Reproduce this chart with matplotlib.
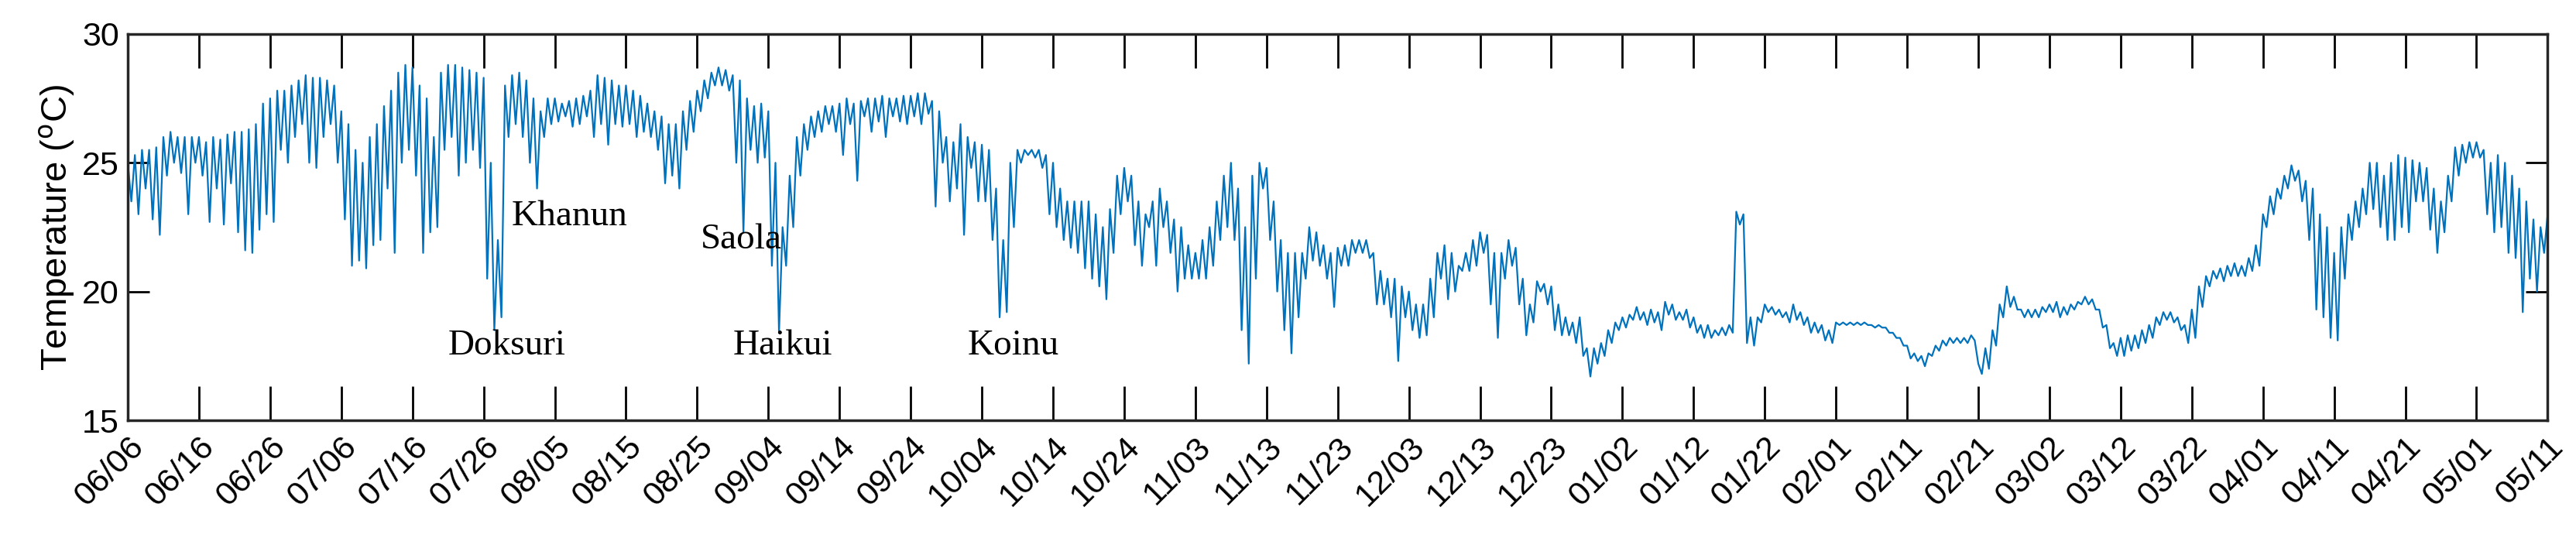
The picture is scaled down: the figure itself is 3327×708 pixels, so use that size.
import matplotlib

matplotlib.use("Agg")
import matplotlib.pyplot as plt  # noqa: E402
import numpy as np  # noqa: E402

# daily upper level and daily dip (deg C), one pair per day starting 06/06
DAY_HIGH = [
    25, 25.3, 25.5, 25.5, 25.6, 26, 26.2, 26, 26, 26,
    26, 25.8, 26, 25.9, 26.1, 26.2, 26.2, 26.3, 26.5, 27.3,
    27.5, 27.8, 27.8, 28, 28.2, 28.4, 28.3, 28.3, 28.2, 28,
    27, 26.5, 25.5, 25, 26, 26.5, 27.2, 27.8, 28.5, 28.8,
    28.7, 28, 27.5, 26, 28.5, 28.8, 28.8, 28.7, 28.6, 28.5,
    28.3, 25, 22, 28, 28.4, 28.5, 28.2, 27.5, 27, 27.5,
    27.5, 27.3, 27.4, 27.5, 27.6, 27.8, 28.4, 28.3, 28.2, 28,
    28, 27.8, 27.6, 27.3, 27, 26.8, 26.5, 26.5, 27, 27.4,
    27.8, 28.2, 28.5, 28.7, 28.6, 28.4, 28.2, 27.5, 27.2, 27.3,
    27, 25, 22.5, 24.5, 26, 26.5, 26.8, 27, 27.2, 27.2,
    27.3, 27.5, 27.3, 27.4, 27.5, 27.5, 27.6, 27.5, 27.5, 27.6,
    27.6, 27.7, 27.7, 27.4, 27, 26, 25.8, 26.5, 26, 25.8,
    25.7, 25.5, 24, 22, 25, 25.5, 25.5, 25.5, 25.5, 25.3,
    25, 24, 23.5, 23.5, 23.5, 23.5, 23, 22.5, 23.2, 24.5,
    24.8, 24.5, 23.5, 23, 23.5, 24, 23.5, 22.8, 22.5, 21.8,
    21.5, 22, 22.5, 23.5, 24.5, 25, 24, 22.5, 24.5, 25,
    24.8, 23.5, 22, 21.5, 21.5, 21.5, 22.5, 22.3, 21.8, 21.5,
    21.7, 21.8, 22, 22, 22, 21.5, 20.8, 20.5, 20.5, 20.2,
    20, 19.5, 19.5, 20.5, 21.5, 21.8, 21.5, 21, 21.5, 22,
    22.3, 22.2, 21.5, 21.5, 22, 21.7, 20.5, 19.5, 20.4, 20.3,
    20.2, 19.5, 19, 18.8, 19, 17.8, 17.8, 18, 18.5, 18.8,
    19, 19.1, 19.4, 19.2, 19.3, 19.2, 19.6, 19.5, 19.2, 19.3,
    19, 18.7, 18.7, 18.5, 18.6, 18.7, 23.1, 23, 19, 19,
    19.5, 19.4, 19.3, 19.2, 19.5, 19.2, 19, 18.8, 18.7, 18.5,
    18.8, 18.8, 18.8, 18.8, 18.8, 18.7, 18.7, 18.6, 18.4, 18.2,
    17.9, 17.6, 17.5, 17.6, 17.9, 18.1, 18.2, 18.2, 18.2, 18.3,
    17.2, 17.8, 18.5, 19.5, 20.2, 19.8, 19.3, 19.3, 19.3, 19.4,
    19.5, 19.6, 19.4, 19.5, 19.6, 19.8, 19.7, 19.3, 18.7, 18,
    18.2, 18.3, 18.3, 18.5, 18.7, 19, 19.2, 19.2, 19, 18.7,
    19.3, 20.2, 20.6, 20.8, 20.9, 21, 21.1, 21, 21.3, 21.8,
    23, 23.7, 24, 24.5, 24.9, 24.7, 24.3, 24, 23, 22.5,
    21.5, 22.5, 23, 23.5, 24, 25, 25, 24.5, 25, 25.3,
    25.2, 25.1, 25, 24.8, 24, 23.5, 24.5, 25.6, 25.7, 25.8,
    25.8, 25.5, 25, 25.3, 25, 24.5, 24, 23.5, 22.8, 22.5,
]
DAY_LOW = [
    23.5, 23, 24, 22.8, 22.2, 24.5, 25, 24.6, 23, 25,
    24.5, 22.7, 24, 22.6, 24.2, 22.3, 21.6, 21.5, 22.4, 23,
    22.7, 25.5, 25, 26, 26.5, 25, 24.8, 26, 26.5, 25,
    22.8, 21, 21.2, 20.9, 21.8, 22, 24, 21.5, 25, 25.5,
    24.5, 21.5, 22.3, 22.5, 25.5, 26, 24.5, 25, 25.5, 24.8,
    20.5, 18.5, 19, 26, 26.5, 26, 25, 24, 26, 26.5,
    26.6, 26.8, 26.4, 26.5, 26.8, 26, 26.5, 25.7, 26.5, 26.4,
    26.5, 26, 26.2, 26, 25.5, 24.2, 24.5, 24, 25.5, 26.2,
    27, 27.5, 28, 28, 27.8, 25, 22.3, 25.5, 25, 25.2,
    21, 18.4, 21, 22.5, 24.5, 25.5, 26, 26.2, 26.5, 26.2,
    25.3, 26.5, 24.3, 26.8, 26.2, 26.6, 26, 26.8, 26.6, 26.5,
    26.8, 26.5, 26.9, 23.3, 25, 23.5, 24, 22.2, 24.8, 23.5,
    23.5, 22, 19, 19.2, 22.5, 25, 25.3, 25.2, 24.8, 23,
    22.5, 22, 21.7, 21.5, 20.9, 20.5, 20.2, 19.7, 21.5, 23,
    23.5, 21.8, 21, 22.5, 21, 22.5, 21.5, 20, 20.5, 20.5,
    20.5, 20.5, 21, 22, 22.5, 22, 18.5, 17.2, 20.5, 24,
    22, 20, 18.5, 17.6, 19, 20.5, 21.2, 21, 20.5, 19.4,
    21, 21, 21.5, 21.5, 21.3, 19.5, 19.5, 19, 17.3, 19,
    18.5, 18.2, 18.3, 19, 20.5, 19.7, 20, 20.8, 20.8, 21,
    21.5, 19.5, 18.2, 20.5, 21, 19.5, 18.3, 18.8, 20, 19.5,
    18.5, 18.3, 18.3, 18, 17.5, 16.7, 17.2, 17.5, 18, 18.5,
    18.6, 18.9, 18.9, 18.7, 18.8, 18.5, 19.1, 18.9, 18.9, 18.6,
    18.4, 18.2, 18.2, 18.3, 18.3, 18.4, 22.6, 18, 17.9, 18.8,
    19.2, 19.1, 19, 18.8, 18.9, 18.7, 18.4, 18.4, 18.1, 18,
    18.7, 18.7, 18.7, 18.7, 18.7, 18.6, 18.6, 18.4, 18.2, 17.9,
    17.4, 17.3, 17.1, 17.5, 17.7, 17.9, 18, 18, 18, 18.1,
    16.8, 17, 17.9, 19, 19.4, 19.3, 19, 19, 19, 19.2,
    19.2, 19, 19.1, 19.3, 19.5, 19.5, 19.3, 18.6, 17.8, 17.5,
    17.5, 17.7, 17.8, 18, 18.2, 18.7, 18.9, 18.8, 18.5, 18,
    18.2, 19.4, 20.2, 20.5, 20.4, 20.6, 20.6, 20.6, 20.8, 21,
    22.5, 23, 23.6, 24, 24.3, 23.5, 22, 19.3, 19, 18.2,
    18.1, 20.5, 22, 22.5, 23, 23.2, 22.5, 22, 22, 22.5,
    22.3, 23.5, 23.5, 22.4, 21.5, 22.3, 23.5, 24.5, 25, 25.2,
    25.2, 23, 22.3, 22.5, 21.5, 21.3, 19.2, 20.5, 20, 21.5,
]
LAST_VALUE = 23

TICK_LABELS = [
    "06/06", "06/16", "06/26", "07/06", "07/16", "07/26", "08/05", "08/15",
    "08/25", "09/04", "09/14", "09/24", "10/04", "10/14", "10/24", "11/03",
    "11/13", "11/23", "12/03", "12/13", "12/23", "01/02", "01/12", "01/22",
    "02/01", "02/11", "02/21", "03/02", "03/12", "03/22", "04/01", "04/11",
    "04/21", "05/01", "05/11",
]

# typhoon labels: (name, day offset, temperature)
TYPHOONS = [
    ("Doksuri", 45.0, 17.9),
    ("Khanun", 53.9, 22.9),
    ("Saola", 80.5, 22.0),
    ("Haikui", 85.0, 17.9),
    ("Koinu", 118.0, 17.9),
]

# interleave each day's upper level and dip into one trace
n = len(DAY_HIGH)
t = np.concatenate([np.column_stack([np.arange(n), np.arange(n) + 0.5]).ravel(), [n]])
y = np.concatenate([np.column_stack([DAY_HIGH, DAY_LOW]).ravel(), [LAST_VALUE]])

fig = plt.figure(figsize=(33.27, 7.08), dpi=100)
ax = fig.add_axes([0.0496, 0.233, 0.9394, 0.705])
ax.plot(t, y, color="#0072BD", lw=1.6)

for name, d, v in TYPHOONS:
    ax.text(d, v, name, family="Liberation Serif", fontsize=34, va="center", ha="left")

ax.set_xlim(0, 340)
ax.set_ylim(15, 30)
ax.set_xticks(np.arange(0, 341, 10))
ax.set_xticklabels(TICK_LABELS, rotation=45, ha="right", rotation_mode="anchor",
                   family="Liberation Sans", fontsize=31)
ax.set_yticks([15, 20, 25, 30])
ax.set_yticklabels(["15", "20", "25", "30"], family="Liberation Sans", fontsize=31)
ax.tick_params(axis="x", direction="in", length=32, width=2, top=True, pad=10)
ax.tick_params(axis="y", direction="in", length=20, width=2, right=True, pad=8)
for s in ax.spines.values():
    s.set_linewidth(2.5)
    s.set_color("#262626")
ax.set_ylabel("Temperature ($^{\\rm o}$C)", family="Liberation Sans", fontsize=34, labelpad=4)

fig.savefig("out.png", dpi=100)
